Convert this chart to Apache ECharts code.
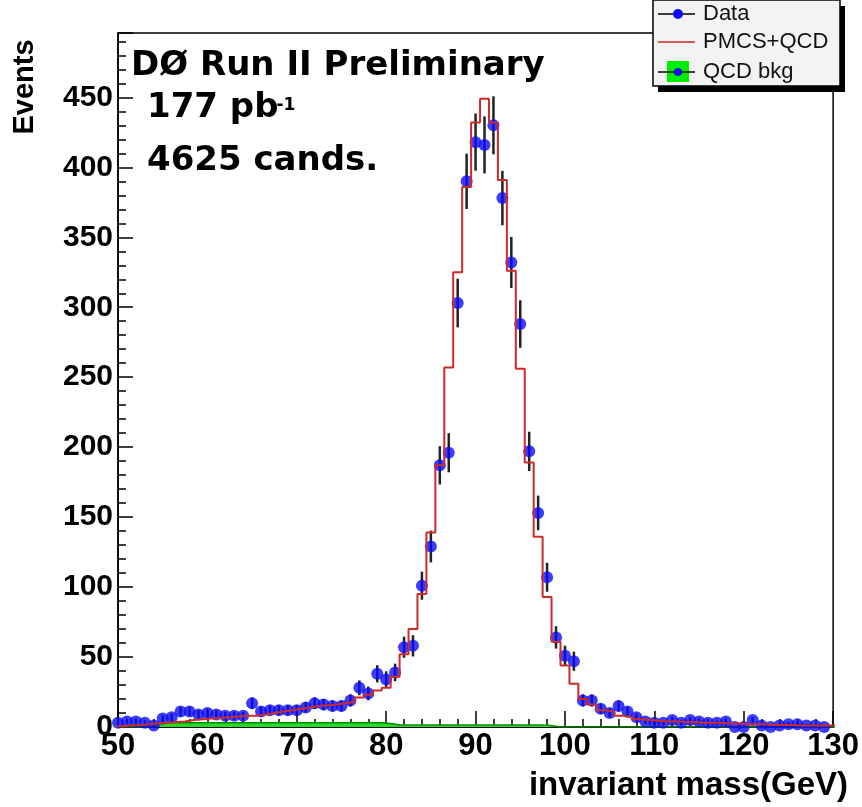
<!DOCTYPE html>
<html>
<head>
<meta charset="utf-8">
<script src="https://cdn.jsdelivr.net/npm/echarts@6/dist/echarts.min.js"></script>
<style>
  html, body { margin: 0; padding: 0; background: #fff; }
  #chart { width: 862px; height: 807px; }
</style>
</head>
<body>
<div id="chart"></div>
<script>
// ---- data (1 GeV bins, bin centre = first centre + index) ----
const firstCentre = 50;          // GeV, centre of first bin
const binWidth = 1;              // GeV

// Observed events, centres 50 .. 129
const dataCounts = [
  3, 4, 4, 3, 1, 6, 7, 11, 11, 9,
  10, 9, 8, 8, 8, 17, 11, 12, 12, 12,
  12, 14, 17, 16, 15, 15, 19, 28, 24, 38,
  34, 39, 57, 58, 101, 129, 187, 196, 303, 390,
  418, 416, 430, 378, 332, 288, 197, 153, 107, 64,
  51, 47, 19, 19, 13, 10, 15, 11, 7, 4,
  3, 3, 5, 3, 5, 4, 3, 3, 4, 0,
  0, 5, 1, 0, 1, 2, 2, 1, 1, 0
];

// PMCS + QCD prediction, centres 50 .. 130
const mcCounts = [
  0.5, 1, 1.5, 2, 2.5, 3, 3.5, 4, 5, 5.5,
  6, 6.5, 7, 7.5, 8, 8, 9, 10, 11, 12,
  13, 14, 15, 15.5, 16, 17, 18, 21, 23, 26,
  28, 36, 52, 70, 95, 139, 187, 257, 325, 386,
  432, 449, 432, 391, 326, 256, 189, 136, 93, 61,
  44, 31, 20, 16, 12, 11, 8, 7, 5.5, 5,
  4.5, 4, 4, 3.5, 3.5, 3, 3, 3, 2.5, 2.5,
  2, 2, 2, 1.5, 1.5, 1.5, 1, 1, 1, 1, 1
];

// QCD background, centres 50 .. 130
const qcdCounts = [
  0, 0, 0, 0, 2, 3, 3, 3, 3, 3,
  3, 3, 3, 3, 3, 3, 3, 3, 3, 3,
  3, 3, 3, 3, 3, 3, 3, 3, 3, 3,
  2.5, 1.5, 1.5, 1.5, 1.5, 1.5, 1.5, 1.5, 1.5, 1.5,
  1.5, 1.5, 1.5, 1.5, 1.5, 1.5, 1.5, 1.5, 1, 0,
  0, 0, 0, 0, 0, 0, 0, 0, 0, 0,
  0, 0, 0, 0, 0, 0, 0, 0, 0, 0,
  0, 0, 0, 0, 0, 0, 0, 0, 0, 0, 0
];

const xTicks = { min: 50, max: 130, step: 10 };
const yTicks = { min: 0, max: 496, step: 50 };

const labelTexts = {
  title: 'DØ Run II Preliminary',
  lumi: '177 pb',
  lumiSup: '-1',
  cands: '4625 cands.',
  xName: 'invariant mass(GeV)',
  yName: 'Events',
  legend: ['Data', 'PMCS+QCD', 'QCD bkg']
};

// ---- build series data ----
const dataPoints = dataCounts.map((v, i) => [firstCentre + i * binWidth, v]);
function stepData(arr) {
  const pts = arr.map((v, i) => [firstCentre - binWidth / 2 + i * binWidth, v]);
  pts.push([firstCentre - binWidth / 2 + arr.length * binWidth, arr[arr.length - 1]]);
  return pts;
}

function measure(text, font) {
  const c = document.createElement('canvas').getContext('2d');
  c.font = font;
  return c.measureText(text).width;
}

const annFont = 'DejaVu Sans';
const annSize = 34;
const lumiW = measure(labelTexts.lumi, 'bold ' + annSize + 'px "' + annFont + '"');

const axisFont = 'Liberation Sans';
const chart = echarts.init(document.getElementById('chart'), null, { renderer: 'canvas' });

const legX = 653, legY = 0, legW = 187, legH = 86;
const legRows = [14, 42, 72];
const dataBlue = '#0c0cf8';

const option = {
  animation: false,
  backgroundColor: '#fff',
  grid: {
    left: 118, right: 22, top: 33, bottom: 80,
    show: true, borderColor: '#000', borderWidth: 1.5, backgroundColor: '#fff'
  },
  xAxis: {
    type: 'value', min: xTicks.min, max: xTicks.max, interval: xTicks.step,
    axisLine: { show: true, lineStyle: { color: '#000', width: 1.5 } },
    axisTick: { show: true, inside: true, length: 16, lineStyle: { color: '#000', width: 1.5 } },
    minorTick: { show: true, splitNumber: 5, length: 8, lineStyle: { color: '#000', width: 1.5 } },
    splitLine: { show: false },
    axisLabel: { color: '#000', fontFamily: axisFont, fontWeight: 'bold', fontSize: 31, margin: 4 }
  },
  yAxis: {
    type: 'value', min: yTicks.min, max: yTicks.max, interval: yTicks.step,
    axisLine: { show: true, lineStyle: { color: '#000', width: 1.5 } },
    axisTick: { show: true, inside: true, length: 15, lineStyle: { color: '#000', width: 1.5 } },
    minorTick: { show: true, splitNumber: 5, length: 8, lineStyle: { color: '#000', width: 1.5 } },
    splitLine: { show: false },
    axisLabel: {
      color: '#000', fontFamily: axisFont, fontWeight: 'bold', fontSize: 30, margin: 5,
      showMaxLabel: false,
      formatter: v => (v % yTicks.step === 0 ? String(v) : '')
    }
  },
  series: [
    {
      name: 'QCD bkg', type: 'line', step: 'end', data: stepData(qcdCounts),
      symbol: 'none', lineStyle: { color: '#008a00', width: 1.5 },
      areaStyle: { color: '#22dd22', opacity: 1 }, z: 1, silent: true
    },
    {
      name: 'errors', type: 'custom', data: dataPoints, z: 2, clip: true,
      encode: { x: 0, y: 1 },
      renderItem: function (params, api) {
        const x = api.value(0), y = api.value(1);
        const e = Math.sqrt(y);
        const p1 = api.coord([x, y - e]);
        const p2 = api.coord([x, y + e]);
        return {
          type: 'line',
          shape: { x1: p1[0], y1: p1[1], x2: p2[0], y2: p2[1] },
          style: { stroke: '#222', lineWidth: 2.5 }
        };
      }
    },
    {
      name: 'Data', type: 'scatter', data: dataPoints, symbol: 'circle', symbolSize: 12,
      itemStyle: { color: dataBlue }, z: 3, clip: false
    },
    {
      name: 'PMCS+QCD', type: 'line', step: 'end', data: stepData(mcCounts),
      symbol: 'none', lineStyle: { color: '#cf2a2a', width: 2 }, z: 4, silent: true
    }
  ],
  graphic: [
    // axis titles
    {
      type: 'text', x: 25, y: 87, rotation: Math.PI / 2, z: 10,
      style: { text: labelTexts.yName, fontFamily: axisFont, fontWeight: 'bold', fontSize: 29,
               fill: '#000', align: 'center', verticalAlign: 'middle' }
    },
    {
      type: 'text', x: 848, y: 786, z: 10,
      style: { text: labelTexts.xName, fontFamily: axisFont, fontWeight: 'bold', fontSize: 33,
               fill: '#000', align: 'right', verticalAlign: 'middle' }
    },
    // annotations
    {
      type: 'text', x: 131, y: 66, z: 10,
      style: { text: labelTexts.title, fontFamily: annFont, fontWeight: 'bold', fontSize: annSize,
               fill: '#000', align: 'left', verticalAlign: 'middle' }
    },
    {
      type: 'text', x: 147, y: 108, z: 10,
      style: { text: labelTexts.lumi, fontFamily: annFont, fontWeight: 'bold', fontSize: annSize,
               fill: '#000', align: 'left', verticalAlign: 'middle' }
    },
    {
      type: 'text', x: 147 + lumiW - 2, y: 106, z: 10,
      style: { text: labelTexts.lumiSup, fontFamily: annFont, fontWeight: 'bold', fontSize: 17,
               fill: '#000', align: 'left', verticalAlign: 'middle' }
    },
    {
      type: 'text', x: 147, y: 161, z: 10,
      style: { text: labelTexts.cands, fontFamily: annFont, fontWeight: 'bold', fontSize: annSize,
               fill: '#000', align: 'left', verticalAlign: 'middle' }
    },
    // legend box with shadow
    {
      type: 'rect', z: 20, shape: { x: legX + 5, y: legY + 6, width: legW, height: legH },
      style: { fill: '#000' }
    },
    {
      type: 'rect', z: 21, shape: { x: legX, y: legY, width: legW, height: legH },
      style: { fill: '#f3f3f3', stroke: '#000', lineWidth: 1.5 }
    },
    // Data entry
    { type: 'line', z: 22, shape: { x1: legX + 5, y1: legRows[0], x2: legX + 42, y2: legRows[0] },
      style: { stroke: '#000', lineWidth: 1.5 } },
    { type: 'circle', z: 23, shape: { cx: legX + 25, cy: legRows[0], r: 5 }, style: { fill: dataBlue } },
    // PMCS+QCD entry
    { type: 'line', z: 22, shape: { x1: legX + 5, y1: legRows[1], x2: legX + 42, y2: legRows[1] },
      style: { stroke: '#cf2a2a', lineWidth: 1.5 } },
    // QCD bkg entry
    { type: 'rect', z: 22, shape: { x: legX + 14, y: legRows[2] - 11, width: 22, height: 21 },
      style: { fill: '#00ee00' } },
    { type: 'line', z: 23, shape: { x1: legX + 5, y1: legRows[2], x2: legX + 42, y2: legRows[2] },
      style: { stroke: '#000', lineWidth: 1.5 } },
    { type: 'circle', z: 24, shape: { cx: legX + 25, cy: legRows[2], r: 4 }, style: { fill: dataBlue } },
    // legend texts
    ...labelTexts.legend.map((t, i) => ({
      type: 'text', x: legX + 50, y: legRows[i], z: 25,
      style: { text: t, fontFamily: axisFont, fontSize: 22, fill: '#111', align: 'left', verticalAlign: 'middle' }
    }))
  ]
};

chart.setOption(option);
</script>
</body>
</html>
